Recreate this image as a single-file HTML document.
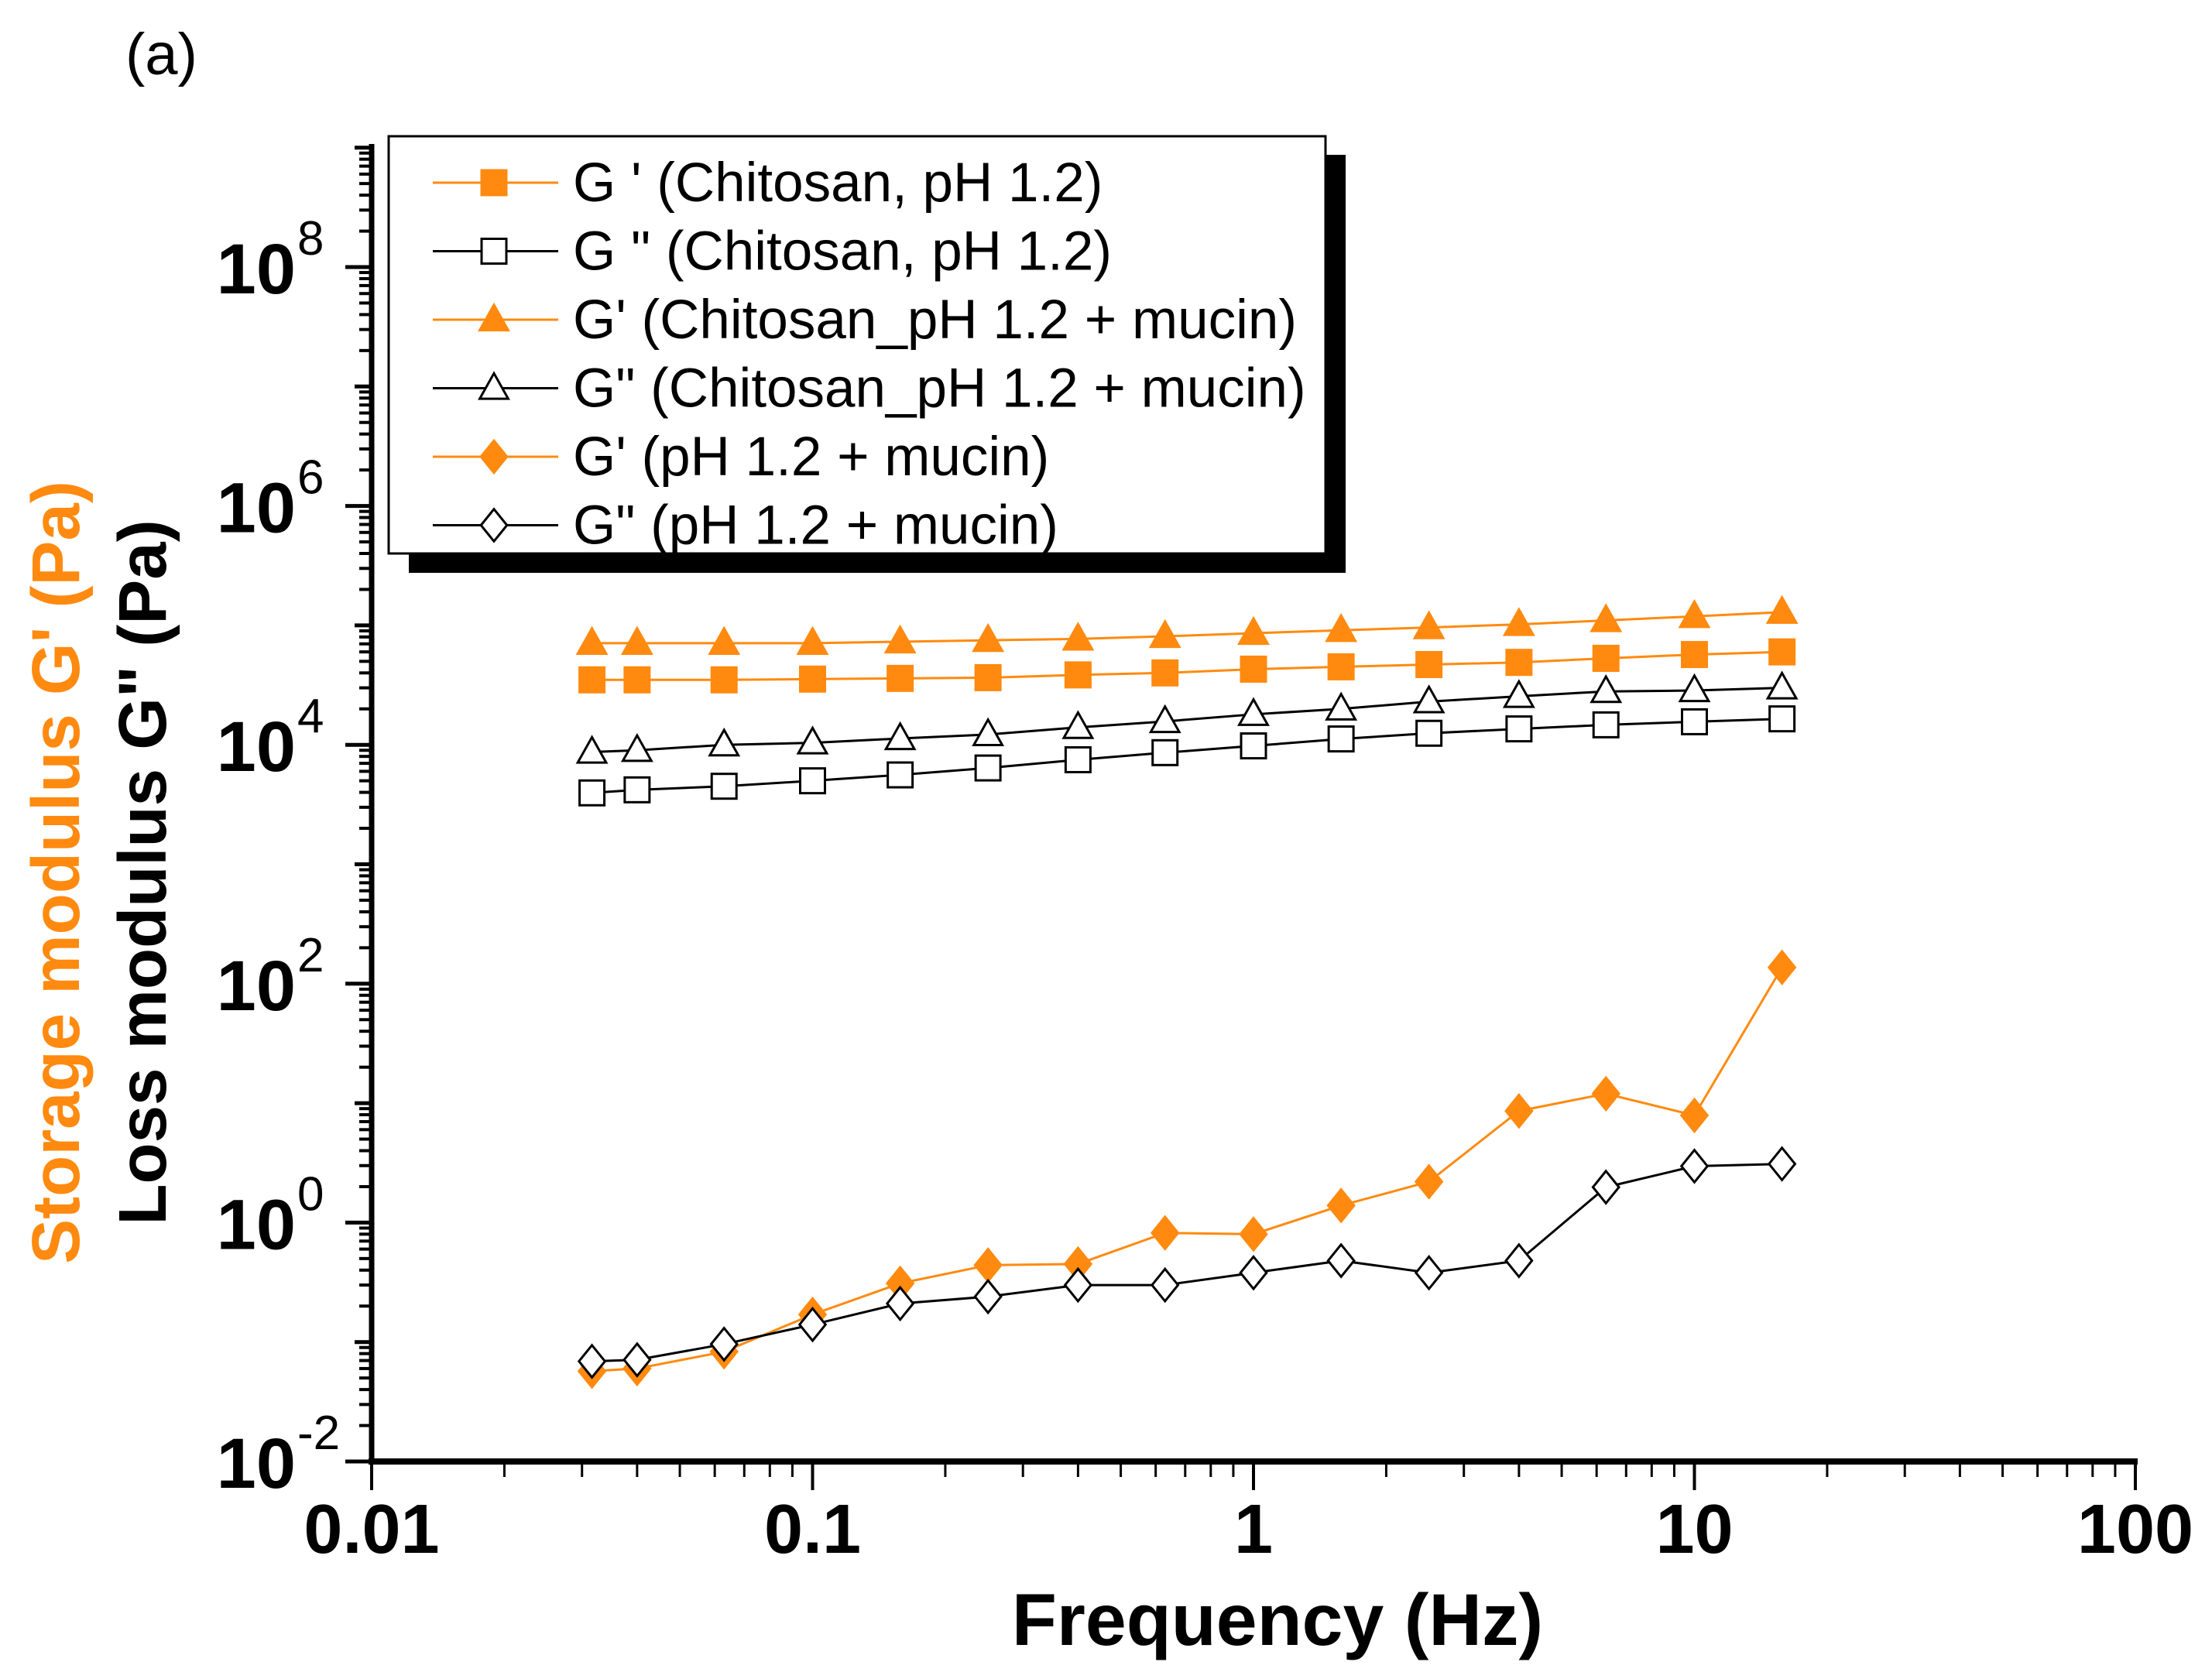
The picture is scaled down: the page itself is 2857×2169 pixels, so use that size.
<!DOCTYPE html>
<html><head><meta charset="utf-8"><style>
html,body{margin:0;padding:0;background:#fff;}
svg{display:block;font-family:"Liberation Sans",sans-serif;}
</style></head><body>
<svg id="chart" width="2857" height="2169" viewBox="0 0 2857 2169"></svg>
<script>
const freqs=[0.0316,0.04,0.063,0.1,0.158,0.25,0.4,0.63,1,1.58,2.5,4,6.3,10,15.8];
const gpChit=[3.5e4,3.5e4,3.5e4,3.55e4,3.6e4,3.65e4,3.85e4,4.0e4,4.3e4,4.5e4,4.7e4,4.9e4,5.3e4,5.7e4,6.0e4];
const gppChit=[3.96e3,4.2e3,4.5e3,5.0e3,5.6e3,6.4e3,7.5e3,8.6e3,9.8e3,1.12e4,1.25e4,1.36e4,1.47e4,1.56e4,1.65e4];
const gpChitMuc=[7.1e4,7.1e4,7.1e4,7.1e4,7.3e4,7.5e4,7.7e4,8.1e4,8.6e4,9.1e4,9.6e4,1.02e5,1.1e5,1.19e5,1.29e5];
const gppChitMuc=[8.7e3,9.0e3,1.0e4,1.04e4,1.13e4,1.22e4,1.4e4,1.57e4,1.8e4,2.0e4,2.3e4,2.55e4,2.8e4,2.85e4,3.0e4];
const gpMuc=[0.057,0.060,0.083,0.17,0.31,0.44,0.45,0.82,0.80,1.39,2.2,8.6,12,7.9,137];
const gppMuc=[0.069,0.071,0.096,0.14,0.21,0.24,0.30,0.30,0.38,0.48,0.38,0.48,1.98,2.97,3.1];
const xTickLabels=["0.01","0.1","1","10","100"];
const yTickExps=[-2,0,2,4,6,8];
const legendLabels=["G ' (Chitosan, pH 1.2)","G \" (Chitosan, pH 1.2)","G' (Chitosan_pH 1.2 + mucin)","G\" (Chitosan_pH 1.2 + mucin)","G' (pH 1.2 + mucin)","G\" (pH 1.2 + mucin)"];

const NS="http://www.w3.org/2000/svg";
const svg=document.getElementById('chart');
const OR="#ff8a0f";
const X0=480,X1=2758,YB=1888,DEC=154.3;
function xs(v){return X0+(Math.log10(v)+2)*(X1-X0)/4;}
function ys(v){return YB-(Math.log10(v)+2)*DEC;}
function mk(tag,attrs,parent){const e=document.createElementNS(NS,tag);for(const k in attrs)e.setAttribute(k,attrs[k]);(parent||svg).appendChild(e);return e;}

let t=mk('text',{x:162,y:96,'font-size':76,fill:'#000'});t.textContent='(a)';



let ax=mk('line',{x1:X0,y1:186,x2:X0,y2:YB,stroke:'#000','stroke-width':7});


ax=mk('line',{x1:X0-4,y1:YB,x2:X1+3,y2:YB,stroke:'#000','stroke-width':8});



for(let d=-2;d<=2;d++){
  const base=Math.pow(10,d);
  const x=xs(base);
  let l=mk('line',{x1:x,y1:YB,x2:x,y2:YB+37,stroke:'#000','stroke-width':4});
  
  
  let tx=mk('text',{x:x,y:YB+118,'font-size':90,'font-weight':'bold','text-anchor':'middle'});
  tx.textContent=xTickLabels[d+2];
  
  
  if(d<2)for(let m=2;m<=9;m++){
    const xm=xs(base*m);
    let lm=mk('line',{x1:xm,y1:YB,x2:xm,y2:YB+20,stroke:'#000','stroke-width':3});
    
    
  }
}
for(let e=-2;e<=9;e++){
  const base=Math.pow(10,e);
  const y=ys(base);
  const major=(e%2===0);
  let l=mk('line',{x1:X0,y1:y,x2:X0-(major?34:22),y2:y,stroke:'#000','stroke-width':5});
  
  
  if(e<9)for(let m=2;m<=9;m++){
    const ym=ys(base*m);
    let lm=mk('line',{x1:X0,y1:ym,x2:X0-16,y2:ym,stroke:'#000','stroke-width':4});
    
    
  }
}
yTickExps.forEach(e=>{
  const y=ys(Math.pow(10,e));
  let tx=mk('text',{x:382,y:y+34,'font-size':92,'font-weight':'bold','text-anchor':'end'});
  tx.textContent='10';
  
  
  let sp=mk('text',{x:384,y:y-16,'font-size':62,'text-anchor':'start'});
  sp.textContent=String(e);
  
  
});

t=mk('text',{x:1650,y:2125,'font-size':95,'font-weight':'bold','text-anchor':'middle'});t.textContent='Frequency (Hz)';


t=mk('text',{x:0,y:0,'font-size':87,'font-weight':'bold','text-anchor':'middle',fill:OR,transform:'translate(102,1127) rotate(-90)'});t.textContent="Storage modulus G' (Pa)";


t=mk('text',{x:0,y:0,'font-size':87,'font-weight':'bold','text-anchor':'middle',fill:'#000',transform:'translate(214,1127) rotate(-90)'});t.textContent='Loss modulus G" (Pa)';



function marker(shape,cx,cy,filled,color,parent,size){
  const s=size||16;
  const fill=filled?color:'#fff';
  const st=filled?color:'#000';
  let el;
  if(shape==='square')el=mk('rect',{x:cx-s,y:cy-s,width:2*s,height:2*s,fill:fill,stroke:st,'stroke-width':3},parent);
  else if(shape==='triangle')el=mk('polygon',{points:`${cx},${cy-s*1.2} ${cx-s*1.15},${cy+s*0.85} ${cx+s*1.15},${cy+s*0.85}`,fill:fill,stroke:st,'stroke-width':3},parent);
  else el=mk('polygon',{points:`${cx},${cy-s*1.3} ${cx+s*1.05},${cy} ${cx},${cy+s*1.3} ${cx-s*1.05},${cy}`,fill:fill,stroke:st,'stroke-width':3},parent);
  return el;
}
const series=[
  {name:'gp-chitosan',vals:gpChit,shape:'square',filled:true,color:OR},
  {name:'gpp-chitosan',vals:gppChit,shape:'square',filled:false,color:'#000'},
  {name:'gp-chitosan-mucin',vals:gpChitMuc,shape:'triangle',filled:true,color:OR},
  {name:'gpp-chitosan-mucin',vals:gppChitMuc,shape:'triangle',filled:false,color:'#000'},
  {name:'gp-mucin',vals:gpMuc,shape:'diamond',filled:true,color:OR},
  {name:'gpp-mucin',vals:gppMuc,shape:'diamond',filled:false,color:'#000'}
];
series.forEach(s=>{
  const g=mk('g',{});
  
  
  const pts=s.vals.map((v,i)=>xs(freqs[i])+','+ys(v)).join(' ');
  let pl=mk('polyline',{points:pts,fill:'none',stroke:s.color,'stroke-width':3},g);
  
  
  s.vals.forEach((v,i)=>{
    const m=marker(s.shape,xs(freqs[i]),ys(v),s.filled,s.color,g);
    
    
  });
});

const lg=mk('g',{});


mk('rect',{x:528,y:200,width:1210,height:540,fill:'#000'},lg);
mk('rect',{x:502,y:176,width:1210,height:539,fill:'#fff',stroke:'#000','stroke-width':3},lg);
legendLabels.forEach((lab,i)=>{
  const s=series[i];
  const y=236+i*88.5;
  const e=mk('g',{},lg);
  
  
  mk('line',{x1:559,y1:y,x2:721,y2:y,stroke:s.color,'stroke-width':3},e);
  marker(s.shape,638,y,s.filled,s.color,e);
  const tx=mk('text',{x:740,y:y+24,'font-size':71},e);
  tx.textContent=lab;
});
</script>
</body></html>
